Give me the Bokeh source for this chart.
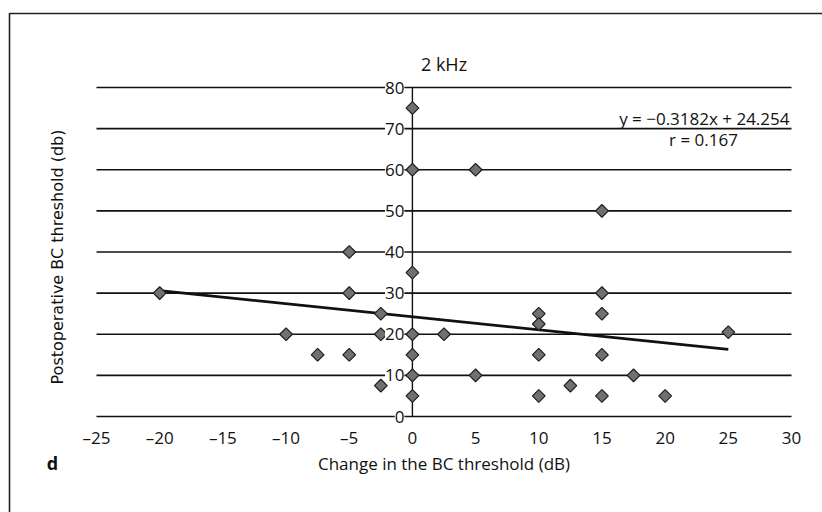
import numpy as np
from bokeh.plotting import figure
from bokeh.models import (ColumnDataSource, LabelSet, Label, BoxAnnotation, Range1d)
from bokeh.core.properties import value
from bokeh.embed import file_html
from bokeh.resources import INLINE

# ---- data ----
x_change = [-20, -10, -7.5, -5, -5, -5, -2.5, -2.5, -2.5, 0, 0, 0, 0, 0, 0, 0,
            2.5, 5, 5, 10, 10, 10, 10, 12.5, 15, 15, 15, 15, 15, 17.5, 20, 25]
y_post = [30, 20, 15, 40, 30, 15, 25, 20, 7.5, 75, 60, 35, 20, 15, 10, 5,
          20, 60, 10, 25, 22.5, 15, 5, 7.5, 50, 30, 25, 15, 5, 10, 5, 20.5]
trend_x = [-20, 25]
trend_y = [30.6, 16.3]
x_ticks = [-25, -20, -15, -10, -5, 0, 5, 10, 15, 20, 25, 30]
y_ticks = [0, 10, 20, 30, 40, 50, 60, 70, 80]
title_text = "2 kHz"
x_title = "Change in the BC threshold (dB)"
y_title = "Postoperative BC threshold (db)"
eq_text = "y = \u22120.3182x + 24.254"
r_text = "r = 0.167"
panel_letter = "d"

# ---- layout (pixels of the plotting area inside the 822x512 canvas) ----
W, H = 822, 512
AREA_L, AREA_R, AREA_T, AREA_B = 96, 791, 87, 416
FONT = "Open Sans"
INK = "#111111"

xmin, xmax = x_ticks[0], x_ticks[-1]
ymin, ymax = y_ticks[0], y_ticks[-1]
sx = (AREA_R - AREA_L) / (xmax - xmin)
sy = (AREA_B - AREA_T) / (ymax - ymin)
x_range = Range1d(xmin - AREA_L / sx, xmax + (W - AREA_R) / sx)
y_range = Range1d(ymin - (H - AREA_B) / sy, ymax + AREA_T / sy)

p = figure(width=W, height=H, x_range=x_range, y_range=y_range,
           x_axis_type=None, y_axis_type=None,
           output_backend="svg", toolbar_location=None,
           min_border=0, outline_line_color=None,
           background_fill_color="white", border_fill_color="white")
p.grid.visible = False

# horizontal gridlines
p.segment(x0=[xmin] * len(y_ticks), x1=[xmax] * len(y_ticks), y0=y_ticks, y1=y_ticks,
          line_color=INK, line_width=1.6)
# vertical axis line at x = 0
p.segment(x0=[0], x1=[0], y0=[ymin], y1=[ymax], line_color=INK, line_width=1.4)

# y tick labels along x = 0 (white box interrupts gridline)
ysrc = ColumnDataSource(dict(x=[0] * len(y_ticks), y=y_ticks,
                             t=[str(v) for v in y_ticks]))
p.add_layout(LabelSet(x="x", y="y", text="t", source=ysrc, x_offset=-8,
                      text_align="right", text_baseline="middle",
                      text_font=value(FONT), text_font_size="17px", text_color=INK,
                      background_fill_color="white"))

# x tick labels
xsrc = ColumnDataSource(dict(x=x_ticks, y=[ymin] * len(x_ticks),
                             t=[("\u2013" + str(-v)) if v < 0 else str(v) for v in x_ticks]))
p.add_layout(LabelSet(x="x", y="y", text="t", source=xsrc, y_offset=-21,
                      text_align="center", text_baseline="middle",
                      text_font=value(FONT), text_font_size="17px", text_color=INK))

# regression line and points
p.line(trend_x, trend_y, line_color=INK, line_width=2.8)
p.scatter(x_change, y_post, marker="square", angle=np.pi / 4, size=9,
          fill_color="#707070", line_color="#1e1e1e", line_width=1.2)

xmid = (xmin + xmax) / 2
ymid = (ymin + ymax) / 2

# title
p.add_layout(Label(x=xmid, y=ymax, text=title_text, y_offset=24,
                   text_align="center", text_baseline="middle",
                   text_font=FONT, text_font_size="18px", text_color=INK))
# x title
p.add_layout(Label(x=xmid, y=ymin, text=x_title, y_offset=-47,
                   text_align="center", text_baseline="middle",
                   text_font=FONT, text_font_size="17px", text_color=INK))
# y title
p.add_layout(Label(x=xmin, y=ymid, text=y_title, x_offset=-39, y_offset=-5,
                   angle=np.pi / 2, text_align="center", text_baseline="middle",
                   text_font="DejaVu Sans", text_font_size="16px", text_color=INK))
# equation text
p.add_layout(Label(x=xmax, y=70, text=eq_text, x_offset=-2, y_offset=10,
                   text_align="right", text_baseline="middle",
                   text_font=FONT, text_font_size="17px", text_color=INK))
p.add_layout(Label(x=xmax, y=70, text=r_text, x_offset=-88, y_offset=-11,
                   text_align="center", text_baseline="middle",
                   text_font=FONT, text_font_size="17px", text_color=INK))
# panel letter
p.add_layout(Label(x=xmin, y=ymin, text=panel_letter, x_offset=-44, y_offset=-46,
                   text_align="center", text_baseline="middle",
                   text_font=FONT, text_font_size="18px", text_font_style="bold",
                   text_color=INK))

# outer frame (left and top edges visible)
p.add_layout(BoxAnnotation(left=9, right=2000, bottom=-2000, top=H - 13,
                           left_units="screen", right_units="screen",
                           bottom_units="screen", top_units="screen",
                           fill_alpha=0, line_color="#222222", line_alpha=1.0,
                           line_width=1.6))

open("out.html", "w").write(file_html(p, INLINE))
